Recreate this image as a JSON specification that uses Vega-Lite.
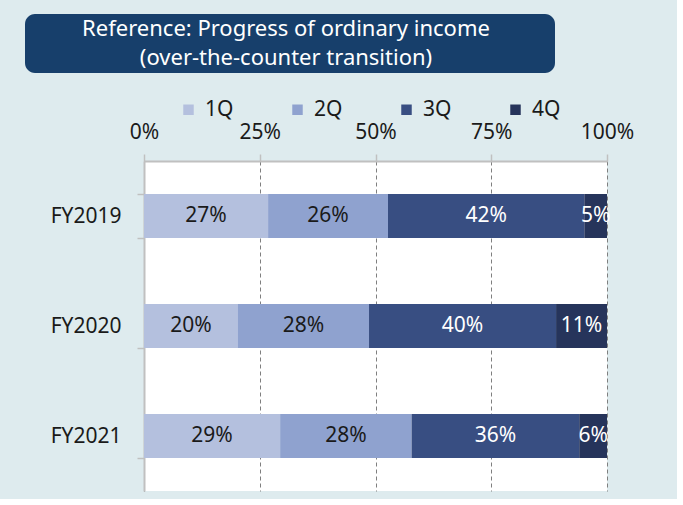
{
  "$schema": "https://vega.github.io/schema/vega-lite/v6.json",
  "background": "#deebee",
  "padding": {"left": 25, "top": 14, "right": 43, "bottom": 8},
  "config": {"font": "Noto Sans"},
  "spacing": 48,
  "vconcat": [
    {
      "width": 530,
      "height": 59,
      "view": {"fill": "#173f6b", "stroke": null, "cornerRadius": 10},
      "data": {"values": [
        {"n": 1, "line": "Reference: Progress of ordinary income"},
        {"n": 2, "line": "(over-the-counter transition)"}
      ]},
      "mark": {"type": "text", "color": "white", "fontSize": 22, "baseline": "middle", "align": "center", "dx": -4},
      "encoding": {
        "y": {"field": "n", "type": "ordinal", "axis": null, "scale": {"type": "point", "padding": 0.55}},
        "text": {"field": "line", "type": "nominal"}
      }
    },
    {
      "spacing": 0,
      "hconcat": [
        {
          "width": 1,
          "height": 330,
          "view": {"stroke": null, "fill": null},
          "data": {"values": []},
          "mark": "point"
        },
        {
          "width": 463,
          "height": 330,
          "view": {"fill": "white", "stroke": null},
          "data": {
            "values": [
              {"year": "FY2019", "q": "1Q", "qi": 1, "share": 0.268},
              {"year": "FY2019", "q": "2Q", "qi": 2, "share": 0.259},
              {"year": "FY2019", "q": "3Q", "qi": 3, "share": 0.424},
              {"year": "FY2019", "q": "4Q", "qi": 4, "share": 0.049},
              {"year": "FY2020", "q": "1Q", "qi": 1, "share": 0.203},
              {"year": "FY2020", "q": "2Q", "qi": 2, "share": 0.283},
              {"year": "FY2020", "q": "3Q", "qi": 3, "share": 0.404},
              {"year": "FY2020", "q": "4Q", "qi": 4, "share": 0.110},
              {"year": "FY2021", "q": "1Q", "qi": 1, "share": 0.294},
              {"year": "FY2021", "q": "2Q", "qi": 2, "share": 0.284},
              {"year": "FY2021", "q": "3Q", "qi": 3, "share": 0.362},
              {"year": "FY2021", "q": "4Q", "qi": 4, "share": 0.060}
            ]
          },
          "encoding": {
            "y": {
              "field": "year",
              "type": "nominal",
              "sort": ["FY2019", "FY2020", "FY2021"],
              "scale": {"paddingInner": 0.6, "paddingOuter": 0.3},
              "axis": {
                "title": null,
                "labelFontSize": 21,
                "labelColor": "#1a1a1a",
                "labelPadding": 16,
                "tickBand": "extent",
                "tickSize": 7,
                "tickColor": "#c0c0c0",
                "tickWidth": 1.5,
                "domainColor": "#c0c0c0",
                "domainWidth": 2,
                "grid": false,
                "minExtent": 118
              }
            }
          },
          "layer": [
            {
              "mark": {"type": "bar"},
              "encoding": {
                "x": {
                  "field": "share",
                  "type": "quantitative",
                  "stack": "zero",
                  "scale": {"domain": [0, 1], "nice": false},
                  "axis": {
                    "orient": "top",
                    "title": null,
                    "values": [0, 0.25, 0.5, 0.75, 1],
                    "format": ".0%",
                    "labelFlush": false,
                    "labelFontSize": 21,
                    "labelColor": "#1a1a1a",
                    "labelPadding": 12,
                    "grid": true,
                    "gridDash": [4, 3],
                    "gridColor": "#7f7f7f",
                    "gridWidth": 1,
                    "domainColor": "#c0c0c0",
                    "domainWidth": 2,
                    "tickColor": "#c0c0c0",
                    "tickSize": 7,
                    "tickWidth": 1.5
                  }
                },
                "color": {
                  "field": "q",
                  "type": "nominal",
                  "scale": {"domain": ["1Q", "2Q", "3Q", "4Q"], "range": ["#b4c0de", "#8fa2cf", "#384e82", "#26345b"]},
                  "legend": {
                    "title": null,
                    "orient": "none",
                    "legendX": 153,
                    "legendY": 85,
                    "direction": "horizontal",
                    "symbolType": "square",
                    "symbolSize": 110,
                    "symbolStrokeWidth": 0,
                    "labelFontSize": 21,
                    "labelColor": "#1a1a1a",
                    "labelOffset": 6,
                    "columnPadding": 53
                  }
                },
                "order": {"field": "qi", "type": "quantitative"}
              }
            },
            {
              "mark": {"type": "text", "fontSize": 21, "baseline": "middle", "align": "center"},
              "encoding": {
                "x": {"field": "share", "type": "quantitative", "stack": "zero", "bandPosition": 0.5},
                "detail": {"field": "q", "type": "nominal"},
                "order": {"field": "qi", "type": "quantitative"},
                "text": {"field": "share", "type": "quantitative", "format": ".0%"},
                "color": {"condition": {"test": "datum.qi >= 3", "value": "white"}, "value": "#1a1a1a"}
              }
            }
          ]
        }
      ]
    }
  ]
}
